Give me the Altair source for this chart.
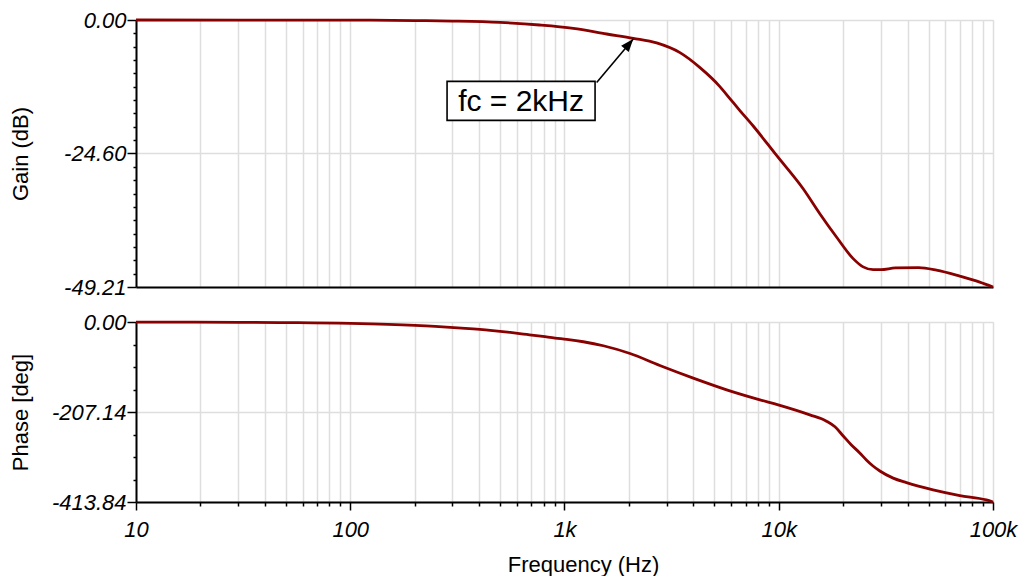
import altair as alt
import pandas as pd

# ---------------- data ----------------
gain_freq = [10, 100, 200, 300, 500, 764, 1099, 1574, 2094, 2692, 3459, 4289, 5312,
             5915, 6586, 7600, 9770, 13000, 15550, 18600, 22250, 24760, 27560, 30000,
             35000, 45000, 54450, 69970, 86700, 100000]
gain_db = [0.0, -0.03, -0.1, -0.2, -0.45, -0.92, -1.54, -2.58, -3.38, -4.23, -6.02, -8.78, -12.27,
           -14.48, -16.69, -19.54, -24.97, -31.1, -35.7, -40.0, -43.98, -45.5, -46.0, -46.0,
           -45.7, -45.64, -46.1, -47.2, -48.3, -49.21]

phase_freq = [10, 30, 57, 150, 249, 344, 450, 558, 667, 792, 904, 1024, 1224, 1518, 2022,
              2786, 3990, 5713, 8170, 9940, 13960, 16700, 18300, 20000, 21830, 23880, 25640,
              27540, 29650, 34200, 39450, 52500, 70000, 93100, 100000]
phase_deg = [-0.2, -0.8, -1.6, -5.5, -10.1, -14.7, -19.3, -24.0, -28.6, -33.2, -37.0, -40.0,
             -45.4, -54.6, -72.5, -100.0, -129.0, -155.9, -178.9, -190.5, -213.5, -228.0,
             -241.0, -262.0, -282.6, -301.0, -317.0, -331.0, -342.5, -359.0, -369.4, -386.0,
             -399.0, -409.0, -413.84]

x_major = [10, 100, 1000, 10000, 100000]
x_labels = ["10", "100", "1k", "10k", "100k"]
x_all = [k * 10 ** n for n in range(1, 5) for k in range(1, 10)] + [100000]

gain_major = [0.0, -24.60, -49.21]
gain_labels = ["0.00", "-24.60", "-49.21"]
gain_minor_div = 10
phase_major = [0.0, -207.14, -413.84]
phase_labels = ["0.00", "-207.14", "-413.84"]
phase_minor_div = 4

annot_text = ["fc = 2kHz"]
annot_f = [627]
annot_db = [-14.9]
arrow_from_f = [1413]
arrow_from_db = [-11.5]
arrow_to_f = [2094]
arrow_to_db = [-3.5]

# ---------------- helpers ----------------
FONT = "Liberation Sans"
LINE = "#880000"
GRID = "#dedede"


def y_ticks(majors, div):
    vals = []
    for a, b in zip(majors[:-1], majors[1:]):
        for i in range(div):
            vals.append(round(a + (b - a) * i / div, 4))
    vals.append(majors[-1])
    return vals


def major_test(majors):
    keys = ",".join(str(int(round(m * 100))) for m in majors)
    return f"indexof([{keys}], round(datum.value * 100)) >= 0"


def label_expr(majors, labels):
    parts = [f"round(datum.value * 100) == {int(round(m * 100))} ? '{l}'" for m, l in zip(majors, labels)]
    return " : ".join(parts) + " : ''"


x_test = f"indexof([{','.join(str(v) for v in x_major)}], datum.value) >= 0"
x_label_expr = " : ".join(f"datum.value == {v} ? '{l}'" for v, l in zip(x_major, x_labels)) + " : ''"

W = 857

x_scale = alt.Scale(type="log", domain=[10, 100000], nice=False)


def y_axis(title, majors, labels, div):
    t = major_test(majors)
    return alt.Axis(
        values=y_ticks(majors, div),
        tickCount=200,
        labelExpr=label_expr(majors, labels),
        labelFontStyle="italic",
        labelFontSize=22,
        labelFont=FONT,
        labelColor="black",
        labelPadding=1,
        labelOverlap=False,
        tickSize={"condition": {"test": t, "value": 9}, "value": 3},
        tickColor="black",
        tickWidth=1.5,
        domainColor="black",
        domainWidth=2,
        grid=True,
        gridColor=GRID,
        gridWidth=1.5,
        gridOpacity={"condition": {"test": t, "value": 1}, "value": 0},
        title=title,
        titleFont=FONT,
        titleFontSize=22,
        titleFontWeight="normal",
        titleColor="black",
        titleX=-104,
    )


# ---------------- gain panel ----------------
gain_df = pd.DataFrame({"f": gain_freq, "v": gain_db})
top_x_axis = alt.Axis(values=x_all, tickCount=200, labels=False, ticks=False, title=None, grid=True,
                      gridColor=GRID, gridWidth=1.5, domainColor="black", domainWidth=2)

gain_line = alt.Chart(gain_df).mark_line(color=LINE, strokeWidth=2.8, interpolate="monotone").encode(
    x=alt.X("f:Q", scale=x_scale, axis=top_x_axis),
    y=alt.Y("v:Q", scale=alt.Scale(domain=[-49.21, 0], nice=False, zero=False),
            axis=y_axis("Gain (dB)", gain_major, gain_labels, gain_minor_div)),
)

ann_df = pd.DataFrame({"f": annot_f, "v": annot_db, "t": annot_text})
arrow_df = pd.DataFrame({"f": arrow_from_f, "v": arrow_from_db, "f2": arrow_to_f, "v2": arrow_to_db})

arrow_rule = alt.Chart(arrow_df).mark_rule(color="black", strokeWidth=1.6).encode(
    x="f:Q", y="v:Q", x2="f2:Q", y2="v2:Q"
)
arrow_head = alt.Chart(arrow_df).mark_point(
    shape="M0,0L-0.38,1L0.38,1Z", filled=True, color="black", size=676, angle=40, opacity=1
).encode(x="f2:Q", y="v2:Q")
box = alt.Chart(ann_df).mark_point(
    shape="M-1,-0.2635L1,-0.2635L1,0.2635L-1,0.2635Z", filled=True, fill="white",
    stroke="black", strokeWidth=1.6, size=21904, opacity=1
).encode(x="f:Q", y="v:Q")
label = alt.Chart(ann_df).mark_text(font=FONT, fontSize=30, color="black",
                                    align="center", baseline="middle", dy=1).encode(
    x="f:Q", y="v:Q", text="t:N"
)

top = alt.layer(gain_line, arrow_rule, box, label, arrow_head).properties(width=W, height=267)

# ---------------- phase panel ----------------
phase_df = pd.DataFrame({"f": phase_freq, "v": phase_deg})
bottom_x_axis = alt.Axis(
    values=x_all,
    tickCount=200,
    labelExpr=x_label_expr,
    labelFontStyle="italic",
    labelFontSize=22,
    labelFont=FONT,
    labelColor="black",
    labelFlush=False,
    labelOverlap=False,
    labelPadding=9,
    tickSize={"condition": {"test": x_test, "value": 8}, "value": 4},
    tickColor="black",
    tickWidth=1.5,
    domainColor="black",
    domainWidth=2,
    grid=True,
    gridColor=GRID,
    gridWidth=1.5,
    title="Frequency (Hz)",
    titleFont=FONT,
    titleFontSize=22,
    titleFontWeight="normal",
    titleColor="black",
    titleX=447,
    titleY=52,
)

phase_line = alt.Chart(phase_df).mark_line(color=LINE, strokeWidth=2.8, interpolate="monotone").encode(
    x=alt.X("f:Q", scale=x_scale, axis=bottom_x_axis),
    y=alt.Y("v:Q", scale=alt.Scale(domain=[-413.84, 0], nice=False, zero=False),
            axis=y_axis("Phase [deg]", phase_major, phase_labels, phase_minor_div)),
)
bottom = phase_line.properties(width=W, height=180)

chart = alt.vconcat(top, bottom, spacing=11).properties(
    padding={"left": 0, "top": 0, "right": 5, "bottom": 0}
).configure_view(stroke=None).configure(background="white").configure_axis(
    labelFontStyle="italic"
)

chart.save("out.html", embed_options={"renderer": "svg", "actions": False})
